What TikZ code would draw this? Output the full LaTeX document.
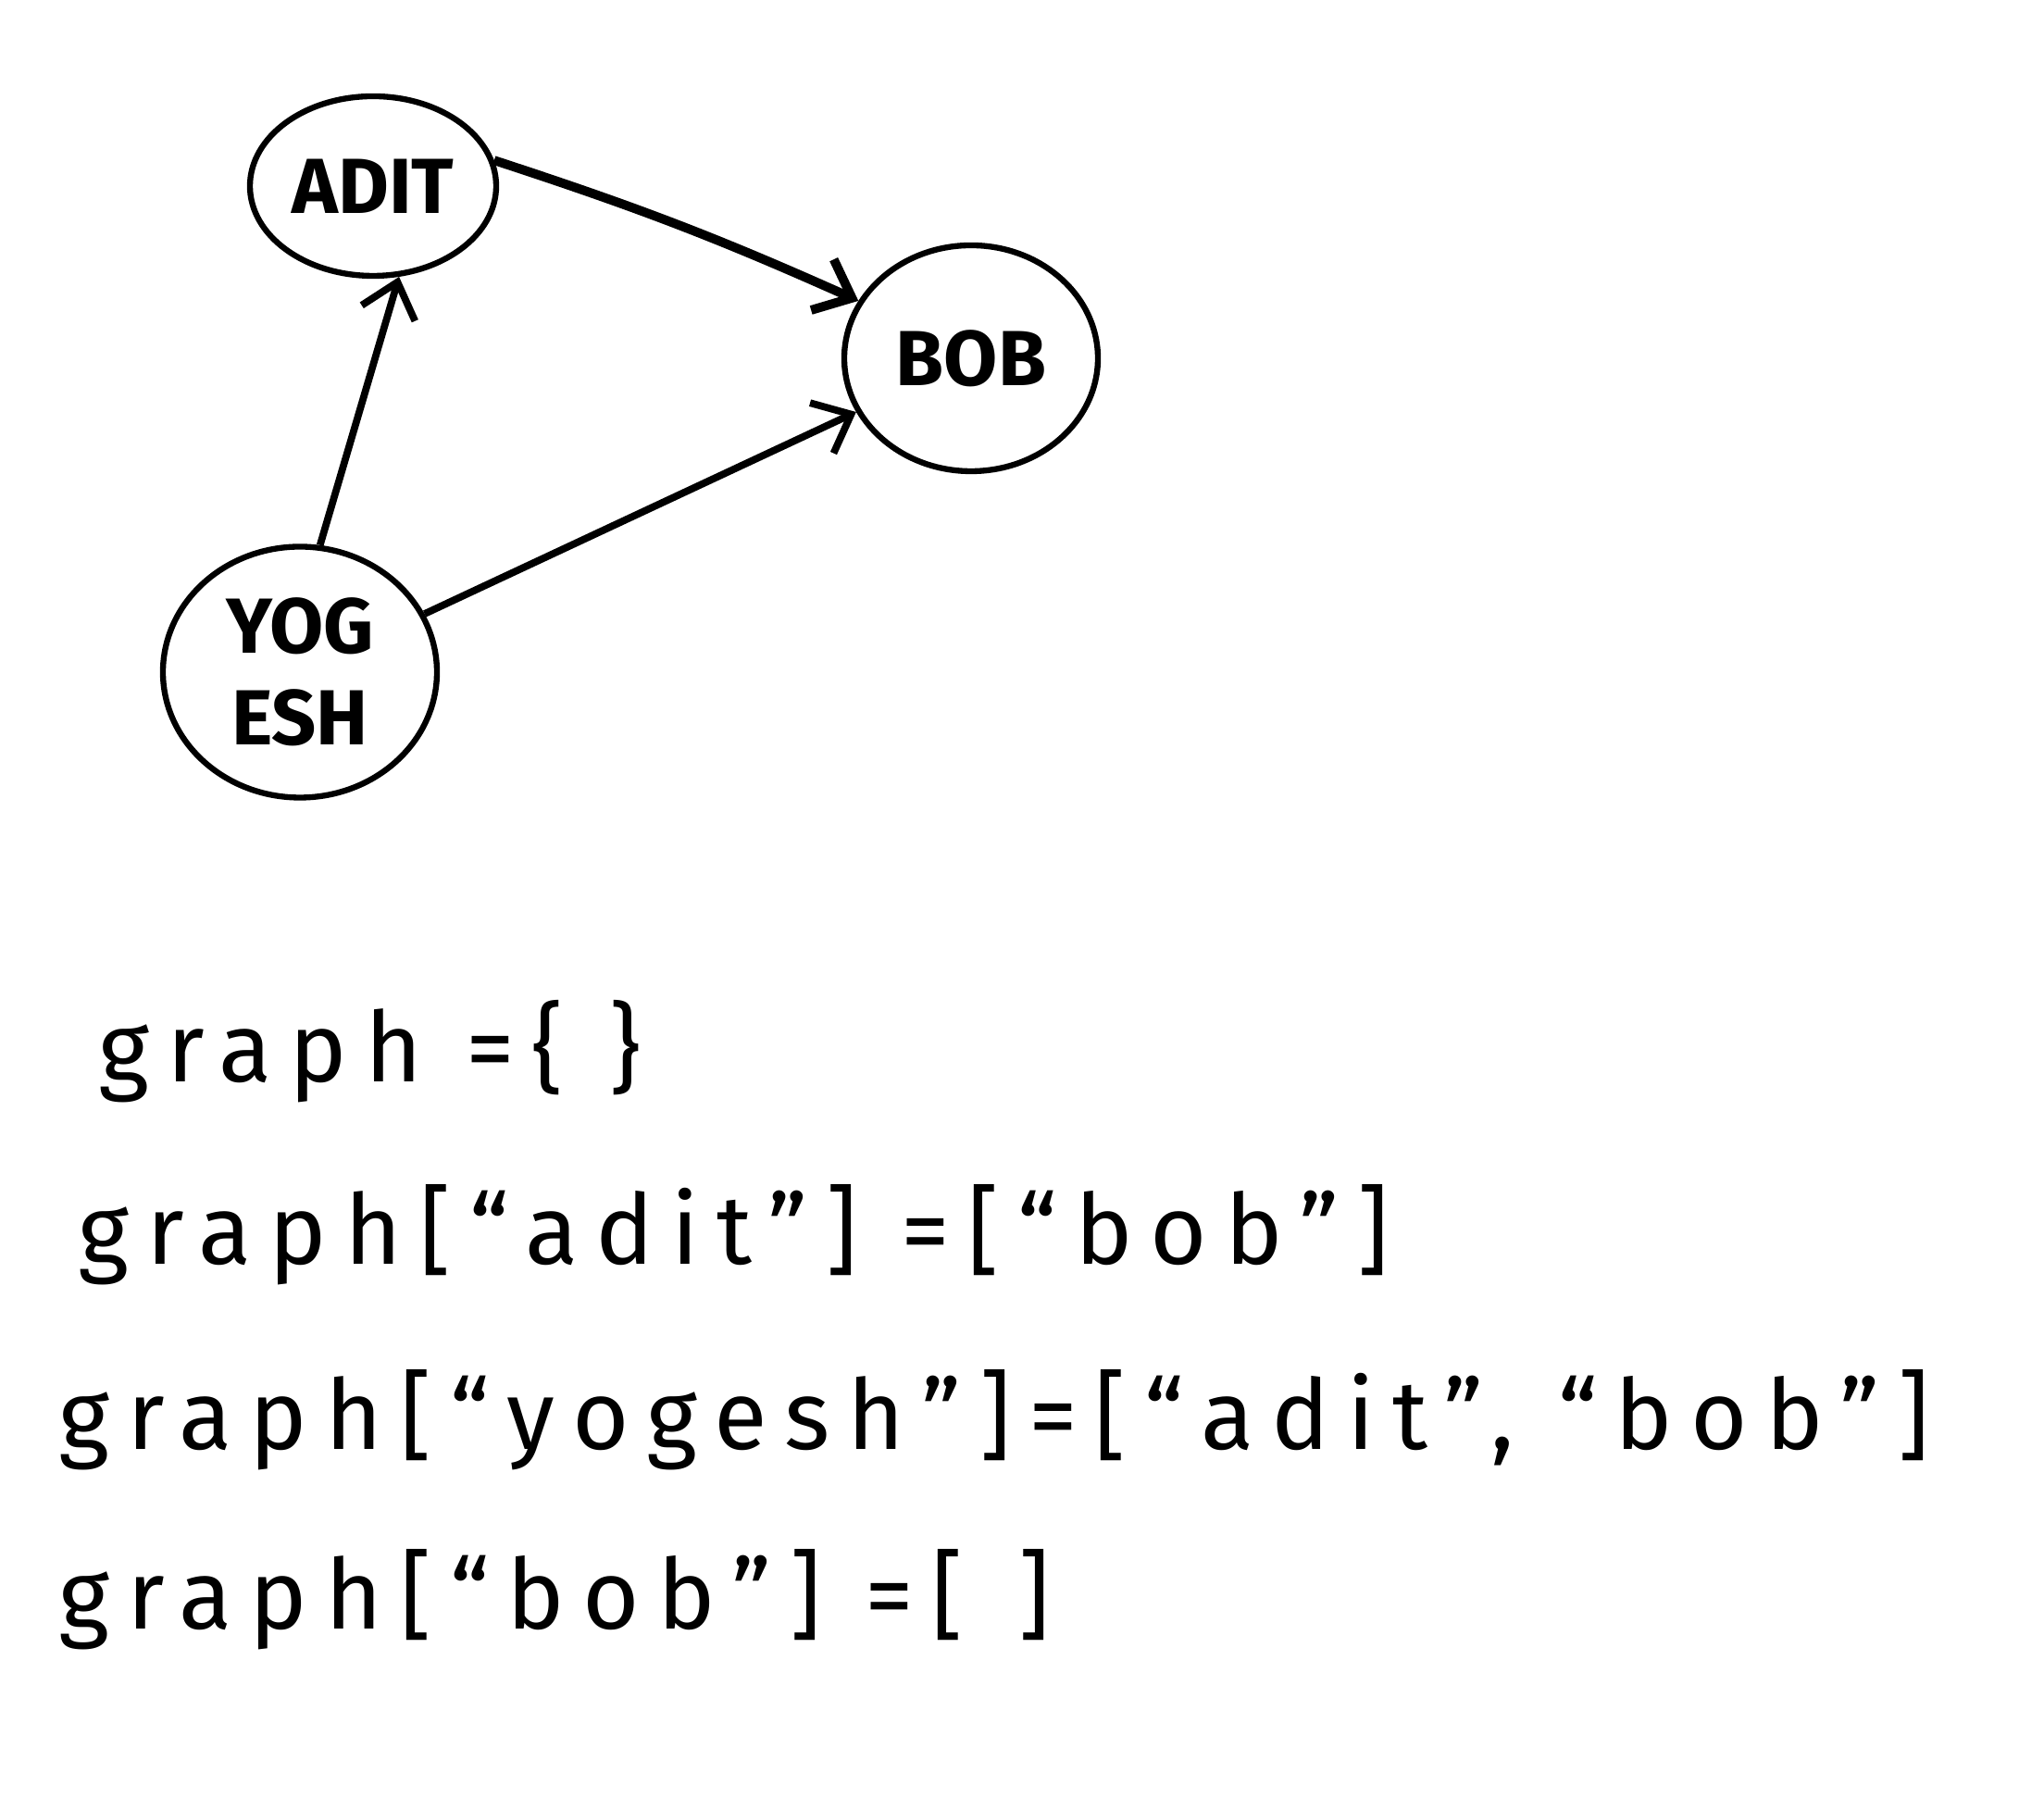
\documentclass[tikz,border=0pt]{standalone}
\usepackage{fontspec}
\setmainfont{Fira Sans}
\newfontfamily\codefont[LetterSpace=18]{Fira Sans}
\usetikzlibrary{arrows.meta,positioning,shapes.geometric}

\begin{document}
\begin{tikzpicture}[
      person/.style={draw, ellipse, line width=1.8pt, inner sep=0pt,
                     font=\fontsize{24}{26}\selectfont\bfseries, align=center},
      arr/.style={-{Straight Barb[length=3.5mm,width=6mm]}, line width=2.2pt},
      code/.style={anchor=base west, inner sep=0pt, font=\fontsize{30}{32}\selectfont\codefont}
    ]
      \useasboundingbox (0,0) rectangle (22.08,19.55);

      \node[person, minimum width=2.66cm, minimum height=1.94cm] (adit) at (4.03,17.54) {ADIT};
      \node[person, minimum width=2.74cm, minimum height=2.44cm] (bob) at (10.49,15.68) {BOB};
      \node[person, minimum width=2.96cm, minimum height=2.71cm] (yogesh) at (3.24,12.29) {YOG\\[2pt]ESH};

      \draw[arr, line width=2.8pt] (adit.12) to[bend left=3] (bob.153);
      \draw[arr] (yogesh.81) -- (adit.-74);
      \draw[arr] (yogesh) -- (bob);

      \node[code] (line1) at (1.06,7.86) {graph =\{\hspace{0.5cm}\}};
      \node[code] (line2) at (0.84,5.89) {graph[“adit”] =[“bob”]};
      \node[code] (line3) at (0.63,3.89) {graph[“yogesh”]=[“adit”, “bob”]};
      \node[code] (line4) at (0.63,1.95) {graph[“bob”] =[\hspace{0.6cm}]};
    \end{tikzpicture}
\end{document}
